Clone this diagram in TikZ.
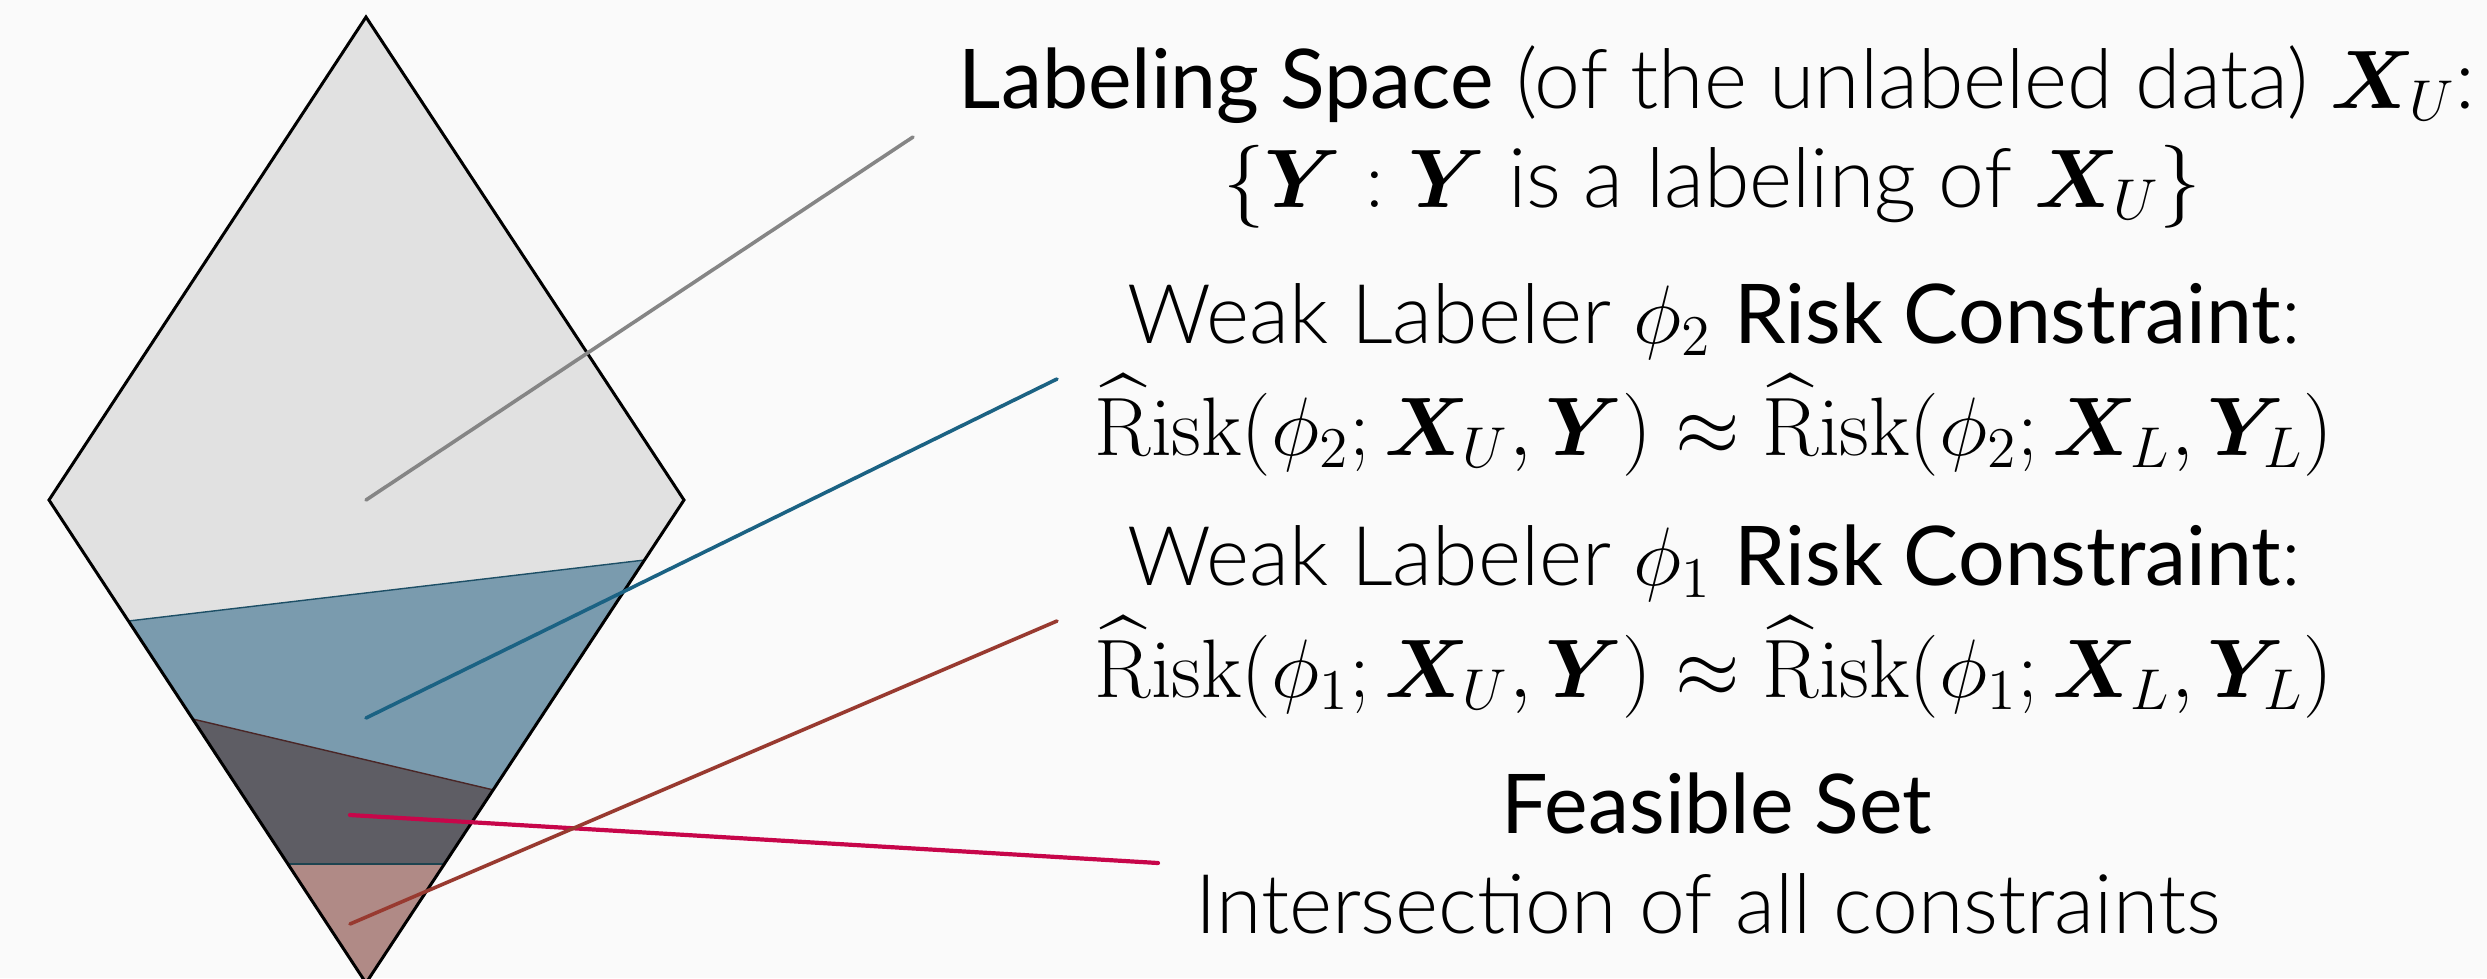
\documentclass[tikz,border=0pt]{standalone}
\usepackage{amsmath,bm}
\usepackage[no-math]{fontspec}
\setmainfont{Lato}[UprightFont={* Light},BoldFont={* Regular}]
\definecolor{bgc}{HTML}{FAFAFA}
\definecolor{grayfill}{HTML}{E1E1E1}
\definecolor{bluefill}{HTML}{7A9BAE}
\definecolor{darkfill}{HTML}{5E5D64}
\definecolor{pinkfill}{HTML}{B08A86}
\definecolor{grayline}{HTML}{858585}
\definecolor{blueline}{HTML}{1B6283}
\definecolor{crimsonline}{HTML}{C7064A}
\definecolor{brownline}{HTML}{983A30}
\definecolor{blueedge}{HTML}{1D4F66}
\definecolor{brownedge}{HTML}{4A2626}
\definecolor{tealedge}{HTML}{1E4450}
\newcommand{\hrisk}{\widehat{\mathrm{R}}\mathrm{isk}}
\tikzset{
  txt/.style={anchor=base, inner sep=0pt, font=\fontsize{20.6}{24}\selectfont},
  mathtxt/.style={anchor=base, inner sep=0pt, font=\fontsize{20.25}{24}\selectfont},
  leader/.style={line width=0.9pt, line cap=round},
  border/.style={line width=0.35pt},
}
\begin{document}
\begin{tikzpicture}[x=0.25pt,y=-0.25pt]
\fill[bgc] (0,0) rectangle (2487,978);
\useasboundingbox (0,0) rectangle (2487,978);
% diamond corners
\coordinate (T) at (366,17);
\coordinate (L) at (49,500);
\coordinate (R) at (684,500);
\coordinate (B) at (366,983);
% region boundaries
\coordinate (b1) at (128.4,621);
\coordinate (b2) at (644.6,560);
\coordinate (d1) at (192.7,719);
\coordinate (d2) at (493.7,790);
\coordinate (p1) at (287.9,864);
\coordinate (p2) at (445.1,864);
\fill[grayfill] (T) -- (R) -- (B) -- (L) -- cycle;
\fill[bluefill] (b1) -- (b2) -- (p2) -- (p1) -- cycle;
\fill[darkfill] (d1) -- (d2) -- (p2) -- (p1) -- cycle;
\fill[pinkfill] (p1) -- (p2) -- (B) -- cycle;
\draw[border, blueedge] (b1) -- (b2);
\draw[border, brownedge] (d1) -- (d2);
\draw[border, tealedge] (p1) -- (p2);
\draw[line width=0.75pt, line join=miter] (T) -- (R) -- (B) -- (L) -- cycle;
% texts
\node[txt] (t1) at (1717,108) {\textbf{Labeling Space} (of the unlabeled data) $\boldsymbol{X}_U$:};
\node[txt] (t2) at (1712,207) {$\{\boldsymbol{Y}:\boldsymbol{Y}$ is a labeling of $\boldsymbol{X}_U\}$};
\node[txt] (t3) at (1714,343) {Weak Labeler $\phi_2$ \textbf{Risk Constraint}:};
\node[mathtxt] (t4) at (1714,455) {$\hrisk(\phi_2;\boldsymbol{X}_U,\boldsymbol{Y})\approx\hrisk(\phi_2;\boldsymbol{X}_L,\boldsymbol{Y}_L)$};
\node[txt] (t5) at (1714,585) {Weak Labeler $\phi_1$ \textbf{Risk Constraint}:};
\node[mathtxt] (t6) at (1714,697) {$\hrisk(\phi_1;\boldsymbol{X}_U,\boldsymbol{Y})\approx\hrisk(\phi_1;\boldsymbol{X}_L,\boldsymbol{Y}_L)$};
\node[txt] (t7) at (1717,833) {\textbf{Feasible Set}};
\node[txt] (t8) at (1708,933) {Intersection of all constraints};
% leader ends
\coordinate (gs) at (366,500);
\coordinate (ge) at (913,137);
\coordinate (bs) at (366,718);
\coordinate (be) at (1057,379);
\coordinate (cs) at (350,815);
\coordinate (ce) at (1158,863);
\coordinate (rs) at (350,924);
\coordinate (re) at (1057,621);
\draw[leader, grayline] (gs) -- (ge);
\draw[leader, blueline] (bs) -- (be);
\draw[leader, crimsonline, line width=1.05pt] (cs) -- (ce);
\draw[leader, brownline] (rs) -- (re);
\end{tikzpicture}
\end{document}
